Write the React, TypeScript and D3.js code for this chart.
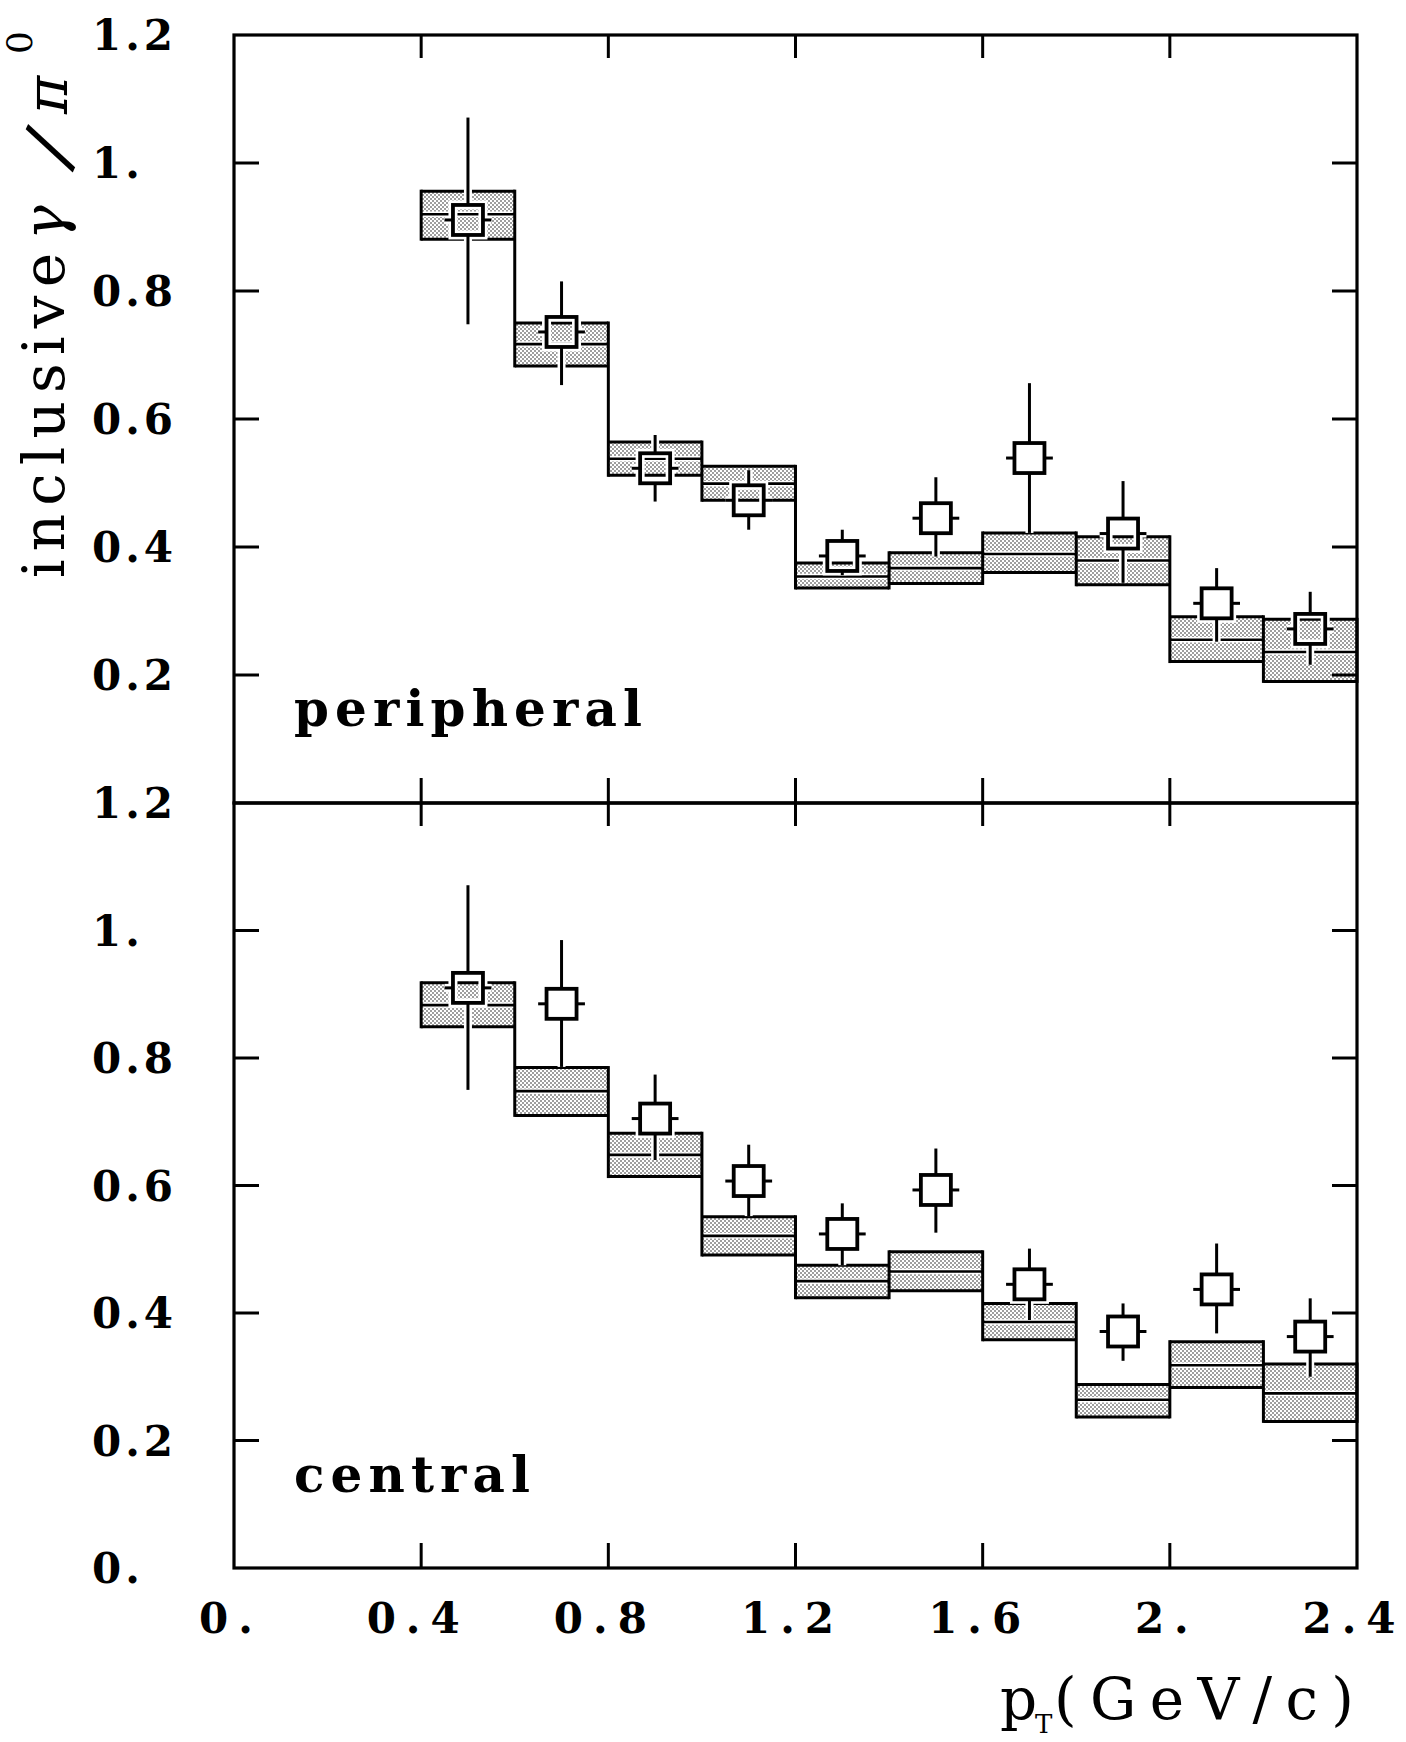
import React from "react";
import * as d3 from "d3";

// ---- data ----
const binEdges = [0.4, 0.6, 0.8, 1.0, 1.2, 1.4, 1.6, 1.8, 2.0, 2.2, 2.4];
const binCenters = [0.5, 0.7, 0.9, 1.1, 1.3, 1.5, 1.7, 1.9, 2.1, 2.3];
const xErr = [0.05, 0.05, 0.05, 0.05, 0.05, 0.05, 0.05, 0.05, 0.05, 0.05];

// peripheral
const periBandLow = [0.881, 0.683, 0.512, 0.473, 0.336, 0.343, 0.36, 0.341, 0.221, 0.19];
const periBandMid = [0.92, 0.717, 0.538, 0.499, 0.354, 0.367, 0.389, 0.379, 0.255, 0.236];
const periBandHigh = [0.956, 0.75, 0.564, 0.526, 0.375, 0.391, 0.422, 0.416, 0.291, 0.287];
const periValue = [0.911, 0.736, 0.523, 0.473, 0.386, 0.445, 0.539, 0.421, 0.312, 0.272];
const periErrHigh = [1.071, 0.815, 0.575, 0.52, 0.427, 0.509, 0.656, 0.503, 0.367, 0.33];
const periErrLow = [0.748, 0.653, 0.471, 0.427, 0.356, 0.385, 0.422, 0.344, 0.252, 0.216];

// central
const centBandLow = [0.849, 0.71, 0.614, 0.491, 0.424, 0.435, 0.358, 0.237, 0.283, 0.23];
const centBandMid = [0.883, 0.748, 0.648, 0.521, 0.45, 0.465, 0.386, 0.264, 0.318, 0.274];
const centBandHigh = [0.918, 0.785, 0.682, 0.551, 0.475, 0.496, 0.415, 0.288, 0.355, 0.32];
const centValue = [0.91, 0.885, 0.705, 0.607, 0.524, 0.593, 0.445, 0.371, 0.437, 0.363];
const centErrHigh = [1.071, 0.985, 0.774, 0.664, 0.572, 0.658, 0.501, 0.415, 0.509, 0.423];
const centErrLow = [0.75, 0.786, 0.64, 0.552, 0.475, 0.526, 0.389, 0.325, 0.368, 0.3];

const xTicks = [0, 0.4, 0.8, 1.2, 1.6, 2.0, 2.4];
const xTickLabels = ["0.", "0.4", "0.8", "1.2", "1.6", "2.", "2.4"];
const yTicks = [0, 0.2, 0.4, 0.6, 0.8, 1.0, 1.2];
const yTickLabels = ["0.", "0.2", "0.4", "0.6", "0.8", "1.", "1.2"];

const W = 1406;
const H = 1742;
const FONT = "'DejaVu Serif', serif";

const x = d3.scaleLinear().domain([0, 2.4]).range([234, 1357]);
const yTop = d3.scaleLinear().domain([0, 1.2]).range([803, 35]);
const yBot = d3.scaleLinear().domain([0, 1.2]).range([1568, 803]);

type PanelProps = {
  y: d3.ScaleLinear<number, number>;
  low: number[];
  mid: number[];
  high: number[];
  val: number[];
  eHi: number[];
  eLo: number[];
  label: string;
  labelLen: number;
  showZero: boolean;
};

function Panel({ y, low, mid, high, val, eHi, eLo, label, labelLen, showZero }: PanelProps) {
  const [x0, x1] = x.range();
  const [yb, yt] = y.range();
  const half = 15;
  const connectors = binEdges.map((e, k) => {
    const vals: number[] = [];
    if (k > 0) vals.push(low[k - 1], high[k - 1]);
    if (k < binCenters.length) vals.push(low[k], high[k]);
    return { e, lo: d3.min(vals)!, hi: d3.max(vals)! };
  });
  const tickLen = 25;
  const innerX = xTicks.filter((t) => t > 0 && t < 2.4);
  const innerY = yTicks.filter((t) => t > 0 && t < 1.2);
  return (
    <g>
      {binCenters.map((c, i) => (
        <rect
          key={"b" + i}
          x={x(binEdges[i])}
          y={y(high[i])}
          width={x(binEdges[i + 1]) - x(binEdges[i])}
          height={y(low[i]) - y(high[i])}
          fill="url(#stip)"
          stroke="none"
        />
      ))}
      {binCenters.map((c, i) => (
        <g key={"m" + i}>
          <line x1={x(binEdges[i]) + 2} x2={x(binEdges[i + 1]) - 2} y1={y(mid[i])} y2={y(mid[i])} stroke="#fff" strokeWidth={5.5} />
          <line x1={x(binEdges[i])} x2={x(binEdges[i + 1])} y1={y(mid[i])} y2={y(mid[i])} stroke="#000" strokeWidth={2.6} />
        </g>
      ))}
      {binCenters.map((c, i) => (
        <g key={"o" + i} stroke="#000" strokeWidth={3} fill="none">
          <line x1={x(binEdges[i])} x2={x(binEdges[i + 1])} y1={y(high[i])} y2={y(high[i])} />
          <line x1={x(binEdges[i])} x2={x(binEdges[i + 1])} y1={y(low[i])} y2={y(low[i])} />
        </g>
      ))}
      {connectors.map((cn, k) => (
        <line
          key={"c" + k}
          x1={x(cn.e)}
          x2={x(cn.e)}
          y1={y(cn.lo) + 1.5}
          y2={y(cn.hi) - 1.5}
          stroke="#000"
          strokeWidth={3}
        />
      ))}
      {binCenters.map((c, i) => {
        const cx = x(c);
        const cy = y(val[i]);
        const segs: [number, number, number, number][] = [];
        if (y(eHi[i]) < cy - half) segs.push([cx, y(eHi[i]), cx, cy - half]);
        if (y(eLo[i]) > cy + half) segs.push([cx, cy + half, cx, y(eLo[i])]);
        segs.push([x(c - xErr[i]), cy, cx - half, cy]);
        segs.push([cx + half, cy, x(c + xErr[i]), cy]);
        return (
          <g key={"p" + i}>
            {segs.map((s, j) => (
              <line key={"h" + j} x1={s[0]} y1={s[1]} x2={s[2]} y2={s[3]} stroke="#fff" strokeWidth={8} />
            ))}
            <rect x={cx - half} y={cy - half} width={2 * half} height={2 * half} fill="none" stroke="#fff" strokeWidth={9} />
            {segs.map((s, j) => (
              <line key={"l" + j} x1={s[0]} y1={s[1]} x2={s[2]} y2={s[3]} stroke="#000" strokeWidth={3} />
            ))}
            <rect x={cx - half} y={cy - half} width={2 * half} height={2 * half} fill="none" stroke="#000" strokeWidth={3.8} />
          </g>
        );
      })}
      <rect x={x0} y={yt} width={x1 - x0} height={yb - yt} fill="none" stroke="#000" strokeWidth={3.2} />
      {innerX.map((t) => (
        <g key={"xt" + t} stroke="#000" strokeWidth={3}>
          <line x1={x(t)} x2={x(t)} y1={yt} y2={yt + tickLen - 2} />
          <line x1={x(t)} x2={x(t)} y1={yb} y2={yb - tickLen} />
        </g>
      ))}
      {innerY.map((t) => (
        <g key={"yt" + t} stroke="#000" strokeWidth={3}>
          <line x1={x0} x2={x0 + tickLen} y1={y(t)} y2={y(t)} />
          <line x1={x1} x2={x1 - tickLen} y1={y(t)} y2={y(t)} />
        </g>
      ))}
      {yTicks.map((t, k) =>
        t === 0 && !showZero ? null : (
          <text
            key={"yl" + t}
            x={92}
            y={y(t) + 15}
            fontFamily={FONT}
            fontWeight="bold"
            fontSize={42}
            letterSpacing={4}
            fill="#000"
          >
            {yTickLabels[k]}
          </text>
        )
      )}
      <text
        x={294}
        y={y(0.12)}
        fontFamily={FONT}
        fontWeight="bold"
        fontSize={50}
        textLength={labelLen}
        lengthAdjust="spacing"
        fill="#000"
      >
        {label}
      </text>
    </g>
  );
}

export default function App() {
  return (
    <svg
      width={W}
      height={H}
      viewBox={`0 0 ${W} ${H}`}
      style={{ position: "absolute", left: 0, top: 0, background: "#fff" }}
    >
      <defs>
        <pattern id="stip" width={4} height={4} patternUnits="userSpaceOnUse">
          <rect width={4} height={4} fill="#fff" />
          <circle cx={1} cy={1} r={0.8} fill="#222" />
          <circle cx={3} cy={3} r={0.8} fill="#222" />
        </pattern>
      </defs>
      <rect width={W} height={H} fill="#fff" />
      <Panel
        y={yTop}
        low={periBandLow}
        mid={periBandMid}
        high={periBandHigh}
        val={periValue}
        eHi={periErrHigh}
        eLo={periErrLow}
        label="peripheral"
        labelLen={348}
        showZero={false}
      />
      <Panel
        y={yBot}
        low={centBandLow}
        mid={centBandMid}
        high={centBandHigh}
        val={centValue}
        eHi={centErrHigh}
        eLo={centErrLow}
        label="central"
        labelLen={236}
        showZero={true}
      />
      {xTicks.map((t, k) => (
        <text
          key={"xl" + t}
          x={x(t) - 3}
          y={1633}
          textAnchor="middle"
          fontFamily={FONT}
          fontWeight="bold"
          fontSize={42}
          letterSpacing={10}
          fill="#000"
        >
          {xTickLabels[k]}
        </text>
      ))}
      {/* x title */}
      <text x={1000} y={1719} fontFamily={FONT} fontSize={58} fill="#000">
        p
      </text>
      <text x={1035} y={1733} fontFamily={FONT} fontSize={26} fill="#000">
        T
      </text>
      <text x={1054} y={1719} fontFamily={FONT} fontSize={58} textLength={300} lengthAdjust="spacing" fill="#000">
        (GeV/c)
      </text>
      {/* y title */}
      <g transform="translate(64,578) rotate(-90)">
        <text x={0} y={0} fontFamily={FONT} fontSize={58} textLength={325} lengthAdjust="spacing" fill="#000">
          inclusive
        </text>
        <text x={338} y={0} fontFamily={FONT} fontSize={58} fontStyle="italic" fill="#000">
          γ
        </text>
        <text
          x={0}
          y={24}
          fontFamily={FONT}
          fontSize={74}
          fill="#000"
          textAnchor="middle"
          transform="translate(430,-14) rotate(25)"
        >
          /
        </text>
        <text x={464} y={3} fontFamily={FONT} fontSize={58} fontStyle="italic" fill="#000">
          π
        </text>
        <text x={524} y={-32} fontFamily={FONT} fontSize={36} fill="#000">
          0
        </text>
      </g>
    </svg>
  );
}
